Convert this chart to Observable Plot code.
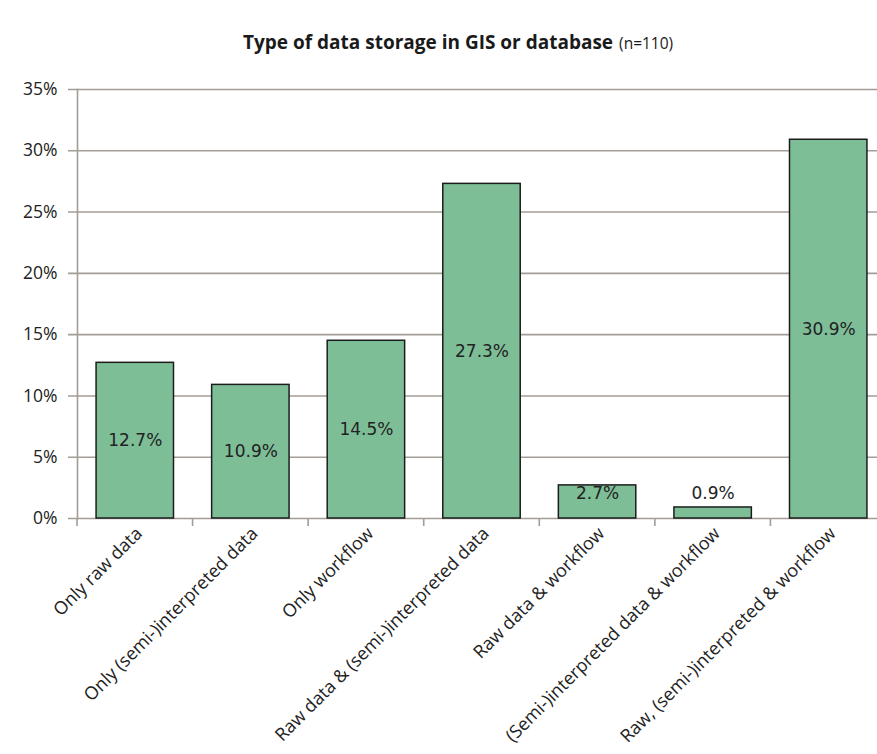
<!DOCTYPE html>
<html>
<head>
<meta charset="utf-8">
<script src="https://cdn.jsdelivr.net/npm/d3@7"></script>
<script src="https://cdn.jsdelivr.net/npm/@observablehq/plot@0.6"></script>
<style>
  body { margin: 0; background: #fff; }
  #wrap { position: relative; width: 877px; height: 754px; overflow: hidden; }
  #title { position: absolute; left: 0; top: 0; width: 877px; height: 70px; }
  #title span.t { position: absolute; left: 243px; top: 31px; font-family: "Open Sans", sans-serif; font-weight: bold; font-size: 19px; color: #1a1a1a; white-space: nowrap; line-height: 1.2; }
  #title span.t small { font-weight: normal; font-size: 15.5px; margin-left: 6px; }
  #chart { position: absolute; left: 0; top: 70px; }
</style>
</head>
<body>
<div id="wrap">
  <div id="title"><span class="t">Type of data storage in GIS or database<small>(n=110)</small></span></div>
  <div id="chart"></div>
</div>
<script>
const categories = [
  "Only raw data",
  "Only (semi-)interpreted data",
  "Only workflow",
  "Raw data & (semi-)interpreted data",
  "Raw data & workflow",
  "(Semi-)interpreted data & workflow",
  "Raw, (semi-)interpreted & workflow"
];
const values = [12.7, 10.9, 14.5, 27.3, 2.7, 0.9, 30.9];
const yTicks = [0, 5, 10, 15, 20, 25, 30, 35];

const data = categories.map((c, i) => ({category: c, value: values[i]}));

const W = 877, H = 684;
const xRange = [77, 886];
const grid = "#a39d97";
const font = "'Open Sans', sans-serif";

const chart = Plot.plot({
  width: W,
  height: H,
  marginTop: 19,
  marginBottom: 236,
  marginLeft: 77,
  marginRight: 0,
  style: {fontFamily: font, background: "transparent", overflow: "visible"},
  x: {domain: categories, range: xRange, paddingInner: 0.33, paddingOuter: 0.165, align: 0.5, round: false, axis: null},
  y: {domain: [0, 35], axis: null},
  marks: [
    // gridlines + y tick marks (extend 9px left of the axis)
    Plot.ruleY(yTicks, {y: d => d, insetLeft: -9, stroke: grid, strokeWidth: 1.6}),
    Plot.frame({anchor: "left", stroke: grid, strokeWidth: 1.6}),
    // y tick labels
    Plot.text(yTicks, {y: d => d, frameAnchor: "left", dx: -20, textAnchor: "end", text: d => d + "%", fontFamily: font, fontSize: 17.5, fill: "#222"}),
    // x tick labels, rotated
    Plot.text(categories, {x: d => d, frameAnchor: "bottom", rotate: -45, textAnchor: "end", lineAnchor: "middle", dx: 4, dy: 12, text: d => d, fontFamily: font, fontSize: 18, fill: "#222"}),
    Plot.barY(data, {x: "category", y: "value", fill: "#7dbe97", stroke: "#1c1c1c", strokeWidth: 1.5}),
    Plot.text(data, {x: "category", y: d => Math.max(d.value / 2, 2), text: d => d.value.toFixed(1) + "%", fontFamily: "DejaVu Sans", fontSize: 17, fill: "#222"})
  ]
});

// category boundary tick marks, placed from Plot's own x and y scales
const xs = chart.scale("x"), ys = chart.scale("y");
const gap = (xs.step - xs.bandwidth) / 2;
const y0 = ys.apply(0);
const g = d3.select(chart).append("g").attr("stroke", grid).attr("stroke-width", 1.6);
categories.forEach(c => {
  const bx = xs.apply(c) - gap;
  g.append("line").attr("x1", bx).attr("x2", bx).attr("y1", y0).attr("y2", y0 + 8);
});

document.getElementById("chart").appendChild(chart);
</script>
</body>
</html>
